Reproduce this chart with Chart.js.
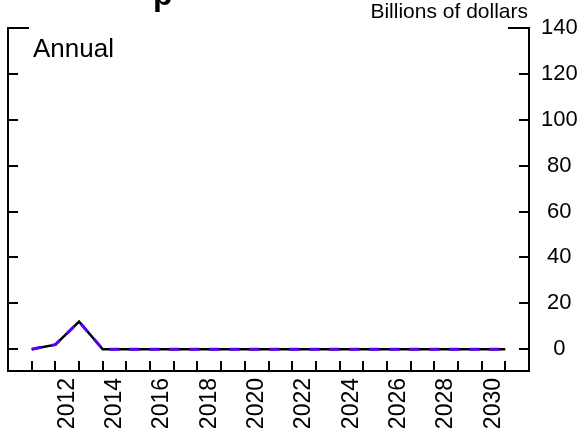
<!DOCTYPE html>
<html>
<head>
<meta charset="utf-8">
<script src="https://cdn.jsdelivr.net/npm/chart.js@4.4.1/dist/chart.umd.min.js"></script>
<style>
  html, body { margin: 0; padding: 0; background: #fff; }
  #wrap { width: 580px; height: 436px; }
</style>
</head>
<body>
<div id="wrap"><canvas id="outlays" width="580" height="436"></canvas></div>
<script>
// annual values, billions of dollars
const years = [2011, 2012, 2013, 2014, 2015, 2016, 2017, 2018, 2019, 2020, 2021,
               2022, 2023, 2024, 2025, 2026, 2027, 2028, 2029, 2030, 2031];
const actual = [0, 2, 12, 0, 0, 0, 0, 0, 0, 0, 0, 0, 0, 0, 0, 0, 0, 0, 0, 0, 0];
const projected = [0, 2, 12, 0, 0, 0, 0, 0, 0, 0, 0, 0, 0, 0, 0, 0, 0, 0, 0, 0, 0];
const yearLabels = [2012, 2014, 2016, 2018, 2020, 2022, 2024, 2026, 2028, 2030];
const yTicks = [0, 20, 40, 60, 80, 100, 120, 140];

const FONT = '"Liberation Sans", Arial, sans-serif';

// box, inward tick marks and the loose text around the plot
const frame = {
  id: 'frame',
  afterDraw(chart) {
    const { ctx, chartArea: a, scales } = chart;
    const x = scales.x, y = scales.y;
    ctx.save();
    ctx.strokeStyle = '#000';
    ctx.lineWidth = 2;
    ctx.lineCap = 'butt';
    ctx.beginPath();
    // open-topped box
    ctx.moveTo(a.left + 21, a.top); ctx.lineTo(a.left, a.top);
    ctx.lineTo(a.left, a.bottom); ctx.lineTo(a.right, a.bottom);
    ctx.lineTo(a.right, a.top); ctx.lineTo(a.right - 21, a.top);
    // y ticks on both sides
    yTicks.forEach(v => {
      const py = Math.round(y.getPixelForValue(v));
      ctx.moveTo(a.left, py); ctx.lineTo(a.left + 10, py);
      ctx.moveTo(a.right, py); ctx.lineTo(a.right - 10, py);
    });
    // a tick for every year
    years.forEach(v => {
      const px = Math.round(x.getPixelForValue(v));
      ctx.moveTo(px, a.bottom); ctx.lineTo(px, a.bottom - 10);
    });
    ctx.stroke();

    ctx.fillStyle = '#000';
    ctx.textBaseline = 'alphabetic';
    ctx.font = '26px ' + FONT;
    ctx.textAlign = 'left';
    ctx.fillText('Annual', a.left + 25, 57);
    ctx.font = '21px ' + FONT;
    ctx.textAlign = 'right';
    ctx.fillText('Billions of dollars', a.right - 1, 18);
    // title sits above the canvas, only its descender shows
    ctx.font = 'bold 32px ' + FONT;
    ctx.textAlign = 'left';
    ctx.fillText('p', 153, 5);
    ctx.restore();
  }
};

new Chart(document.getElementById('outlays'), {
  type: 'line',
  data: {
    datasets: [
      {
        data: years.map((yr, i) => ({ x: yr, y: actual[i] })),
        borderColor: '#000000',
        borderWidth: 2.5,
        pointRadius: 0,
        tension: 0,
        order: 2
      },
      {
        data: years.map((yr, i) => ({ x: yr, y: projected[i] })),
        borderColor: '#5a00f8',
        borderWidth: 3,
        borderDash: [10, 10],
        pointRadius: 0,
        tension: 0,
        order: 1
      }
    ]
  },
  options: {
    responsive: false,
    animation: false,
    layout: { padding: { left: 8, top: 28, right: 0, bottom: 0 } },
    plugins: {
      legend: { display: false },
      tooltip: { enabled: false },
      title: { display: false }
    },
    scales: {
      x: {
        type: 'linear',
        min: 2010,
        max: 2032,
        grid: { display: false, drawTicks: false },
        border: { display: false },
        afterBuildTicks: axis => {
          // labels sit in the middle of each year
          axis.ticks = yearLabels.map(v => ({ value: v + 0.5 }));
        },
        afterFit: axis => { axis.height = 65; },
        ticks: {
          autoSkip: false,
          minRotation: 90,
          maxRotation: 90,
          padding: 7,
          color: '#000',
          font: { family: FONT, size: 23 },
          callback: v => String(Math.floor(v))
        }
      },
      y: {
        position: 'right',
        min: -9.5,
        max: 140,
        grid: { display: false, drawTicks: false },
        border: { display: false },
        afterBuildTicks: axis => {
          axis.ticks = yTicks.map(v => ({ value: v }));
        },
        afterFit: axis => { axis.width = 51; },
        ticks: {
          padding: 12,
          crossAlign: 'center',
          color: '#000',
          font: { family: FONT, size: 22 }
        }
      }
    }
  },
  plugins: [frame]
});
</script>
</body>
</html>
